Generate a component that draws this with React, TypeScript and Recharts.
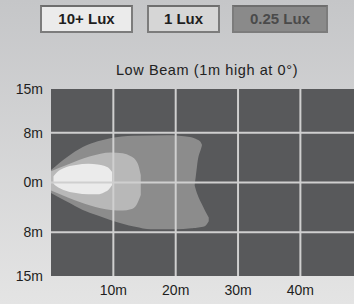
import React from "react";
import { ComposedChart, Area, XAxis, YAxis, CartesianGrid, ReferenceLine } from "recharts";

type Tri = [number, number, number]; // [distance m, low m, high m]

// 0.25 Lux zone, upper half
const lux025Upper: Tri[] = [
  [0, -0.5, 2.0], [2.6, -0.5, 4.1], [5.1, -0.5, 5.7], [7.5, -0.5, 6.6], [9.5, -0.5, 7.1],
  [13.2, -0.5, 7.5], [18.6, -0.5, 7.6], [22.3, -0.5, 7.3], [23.0, -0.5, 7.1],
  [23.1, 0.1, 7.05], [23.6, 3.9, 6.8], [24.0, 5.2, 6.5], [24.2, 5.9, 6.1],
];
// 0.25 Lux zone, lower half
const lux025Lower: Tri[] = [
  [0, -1.7, 0.5], [2.6, -3.1, 0.5], [5.1, -4.4, 0.5], [7.5, -5.3, 0.5], [9.5, -6.0, 0.5],
  [13.5, -7.1, 0.5], [16, -7.5, 0.5], [20, -7.5, 0.5], [22.5, -7.35, 0.5],
  [22.9, -7.3, -0.1], [23.4, -7.25, -1.7], [24.4, -7.1, -3.9], [24.9, -6.8, -4.9], [25.3, -6.2, -5.6],
];
// 1 Lux zone
const lux1: Tri[] = [
  [0, -1.3, 1.8], [2.7, -2.4, 2.9], [6.3, -3.7, 4.2], [9.6, -4.4, 4.8], [11.5, -4.5, 4.7],
  [12.8, -4.3, 4.2], [13.5, -3.9, 3.7], [14.0, -3.0, 2.8], [14.4, -2.0, 1.2],
];
// 10+ Lux zone
const lux10: Tri[] = [
  [0.4, -0.2, 1.0], [1.0, -0.7, 1.7], [2.0, -1.2, 2.3], [4.0, -1.7, 2.8], [6.0, -1.9, 3.0],
  [7.5, -1.9, 2.9], [8.5, -1.6, 2.7], [9.3, -1.1, 2.3], [9.8, -0.4, 1.7],
];

const legendLabels = ["10+ Lux", "1 Lux", "0.25 Lux"];
const legendFills = ["#ebebeb", "#d6d6d6", "#8a8a8a"];
const legendText = ["#1e1e1e", "#1e1e1e", "#4a4a4a"];
const legendLeft = [40, 147, 232];
const legendWidth = [93, 73, 96];

const xTicks = [10, 20, 30, 40];
const yTicks = [-15, -8, 0, 8, 15];
const xGrid = [10, 20, 30, 40];
const yGrid = [-8, 0, 8];

const title = "Low Beam (1m high at 0°)";

function buildTable(series: Record<string, Tri[]>) {
  const map = new Map<number, any>();
  Object.entries(series).forEach(([key, pts]) => {
    pts.forEach(([x, lo, hi]) => {
      const row = map.get(x) ?? { x };
      row[key] = [lo, hi];
      map.set(x, row);
    });
  });
  return Array.from(map.values()).sort((a, b) => a.x - b.x);
}

const table = buildTable({ o1: lux025Upper, o2: lux025Lower, m: lux1, i: lux10 });

const FONT = '"Liberation Sans", Arial, sans-serif';

export default function App() {
  return (
    <div
      style={{
        position: "absolute",
        left: 0,
        top: 0,
        width: 354,
        height: 304,
        overflow: "hidden",
        background: "linear-gradient(#c5c6c8, #e4e4e4)",
        fontFamily: FONT,
      }}
    >
      {legendLabels.map((l, k) => (
        <div
          key={l}
          style={{
            position: "absolute",
            left: legendLeft[k],
            top: 5,
            width: legendWidth[k],
            height: 28,
            boxSizing: "border-box",
            background: legendFills[k],
            border: "2px solid #7c7c7c",
            borderTopColor: "#6e6e6e",
            color: legendText[k],
            fontSize: 15,
            fontWeight: 600,
            lineHeight: "24px",
            textAlign: "center",
          }}
        >
          {l}
        </div>
      ))}
      <div
        style={{
          position: "absolute",
          left: 100,
          width: 214,
          top: 62,
          textAlign: "center",
          fontSize: 14.5,
          color: "#222",
          letterSpacing: 0.6,
        }}
      >
        {title}
      </div>
      <div style={{ position: "absolute", left: 0, top: 0 }}>
        <ComposedChart
          width={354}
          height={304}
          data={table}
          margin={{ top: 89, right: 0, bottom: 0, left: 0 }}
        >
          <CartesianGrid fill="#58595b" horizontal={false} vertical={false} />
          <XAxis
            dataKey="x"
            type="number"
            domain={[0, 48.6]}
            allowDataOverflow
            ticks={xTicks}
            tickFormatter={(v: number) => `${v}m`}
            axisLine={false}
            tickLine={false}
            tickSize={0}
            tickMargin={9}
            height={28}
            tick={{ fill: "#1e1e1e", fontSize: 14, fontFamily: FONT }}
          />
          <YAxis
            type="number"
            domain={[-15, 15]}
            ticks={yTicks}
            tickFormatter={(v: number) => `${Math.abs(v)}m`}
            axisLine={false}
            tickLine={false}
            tickSize={0}
            tickMargin={8}
            width={51}
            tick={{ fill: "#1e1e1e", fontSize: 14, fontFamily: FONT }}
          />
          <Area dataKey="o1" type="monotone" fill="#8c8c8c" fillOpacity={1} stroke="none" connectNulls isAnimationActive={false} />
          <Area dataKey="o2" type="monotone" fill="#8c8c8c" fillOpacity={1} stroke="none" connectNulls isAnimationActive={false} />
          <Area dataKey="m" type="monotone" fill="#b8b8b8" fillOpacity={1} stroke="none" connectNulls isAnimationActive={false} />
          <Area dataKey="i" type="monotone" fill="#ebebeb" fillOpacity={1} stroke="none" connectNulls isAnimationActive={false} />
          {xGrid.map((v) => (
            <ReferenceLine key={`x${v}`} x={v} stroke="#cfcfcf" strokeWidth={2} />
          ))}
          {yGrid.map((v) => (
            <ReferenceLine key={`y${v}`} y={v} stroke="#cfcfcf" strokeWidth={2} />
          ))}
        </ComposedChart>
      </div>
    </div>
  );
}
